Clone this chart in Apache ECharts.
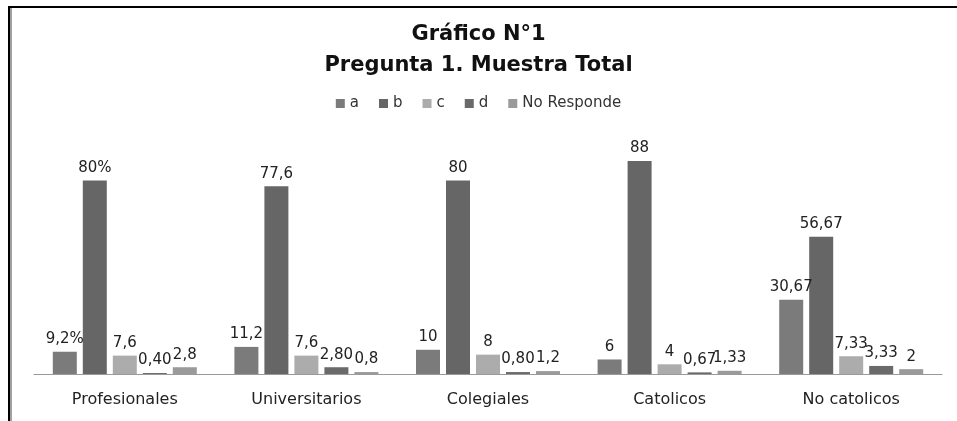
<!DOCTYPE html>
<html>
<head>
<meta charset="utf-8">
<script src="https://cdn.jsdelivr.net/npm/echarts@6/dist/echarts.min.js"></script>
<style>
  html, body { margin: 0; padding: 0; background: #fff; }
  #chart { width: 957px; height: 421px; }
</style>
</head>
<body>
<div id="chart"></div>
<script>
// Groups surveyed
const categories = ['Profesionales', 'Universitarios', 'Colegiales', 'Catolicos', 'No catolicos'];
const seriesNames = ['a', 'b', 'c', 'd', 'No Responde'];

// Percentages per answer option
const valuesA  = [9.2, 11.2, 10, 6, 30.67];
const valuesB  = [80, 77.6, 80, 88, 56.67];
const valuesC  = [7.6, 7.6, 8, 4, 7.33];
const valuesD  = [0.40, 2.80, 0.80, 0.67, 3.33];
const valuesNR = [2.8, 0.8, 1.2, 1.33, 2];

// Label text as printed above each bar
const labelsA  = ['9,2%', '11,2', '10', '6', '30,67'];
const labelsB  = ['80%', '77,6', '80', '88', '56,67'];
const labelsC  = ['7,6', '7,6', '8', '4', '7,33'];
const labelsD  = ['0,40', '2,80', '0,80', '0,67', '3,33'];
const labelsNR = ['2,8', '0,8', '1,2', '1,33', '2'];

const allValues = [valuesA, valuesB, valuesC, valuesD, valuesNR];
const allLabels = [labelsA, labelsB, labelsC, labelsD, labelsNR];
const colors = ['#7b7b7b', '#666666', '#acacac', '#6a6a6a', '#9a9a9a'];

const labelFont = 'DejaVu Sans, Verdana, sans-serif';

const chart = echarts.init(document.getElementById('chart'), null, { renderer: 'canvas' });

const series = seriesNames.map((name, i) => ({
  name: name,
  type: 'bar',
  data: allValues[i],
  barWidth: 24,
  barGap: '25%',
  itemStyle: { color: colors[i] },
  label: {
    show: true,
    position: 'top',
    distance: 5,
    color: '#222',
    fontFamily: labelFont,
    fontSize: 15,
    formatter: p => allLabels[i][p.dataIndex]
  },
  labelLayout: { hideOverlap: false }
}));

chart.setOption({
  animation: false,
  backgroundColor: '#ffffff',
  color: colors,
  title: {
    text: 'Gráfico N°1\nPregunta 1. Muestra Total',
    left: 'center',
    top: 14,
    textStyle: {
      fontFamily: 'DejaVu Sans, sans-serif',
      fontWeight: 'bold',
      fontSize: 21,
      lineHeight: 31,
      color: '#111'
    }
  },
  legend: {
    data: seriesNames,
    top: 91,
    left: 'center',
    itemWidth: 9,
    itemHeight: 9,
    itemGap: 20,
    icon: 'rect',
    textStyle: {
      fontFamily: labelFont,
      fontSize: 15,
      color: '#333'
    }
  },
  grid: {
    left: 34,
    right: 15,
    top: 132,
    bottom: 47,
    containLabel: false
  },
  xAxis: {
    type: 'category',
    data: categories,
    axisLine: { lineStyle: { color: '#9a9a9a', width: 1 } },
    axisTick: { show: false },
    axisLabel: {
      margin: 18,
      fontFamily: labelFont,
      fontSize: 16,
      color: '#222'
    }
  },
  yAxis: {
    type: 'value',
    min: 0,
    max: 100,
    show: false,
    splitLine: { show: false }
  },
  graphic: [
    // Page frame: top rule and left rule with its grey shadow stripe
    { type: 'rect', shape: { x: 8, y: 6, width: 949, height: 2 }, style: { fill: '#000' }, silent: true },
    { type: 'rect', shape: { x: 8, y: 6, width: 2, height: 415 }, style: { fill: '#000' }, silent: true },
    { type: 'rect', shape: { x: 10, y: 8, width: 2, height: 413 }, style: { fill: '#a0a0a0' }, silent: true }
  ],
  series: series
});
</script>
</body>
</html>
